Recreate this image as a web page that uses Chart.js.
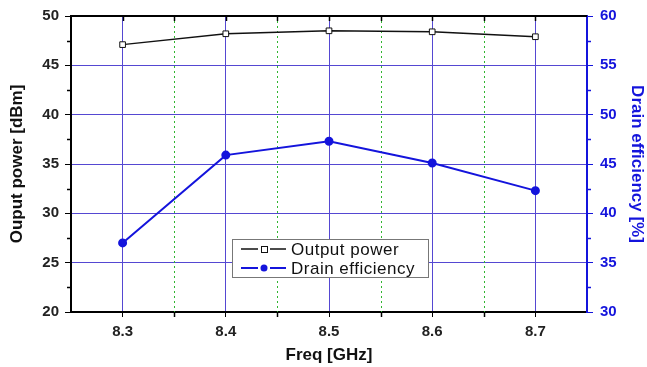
<!DOCTYPE html>
<html>
<head>
<meta charset="utf-8">
<script src="https://cdn.jsdelivr.net/npm/chart.js@4.4.1/dist/chart.umd.min.js"></script>
<style>
  html, body { margin: 0; padding: 0; background: #fff; }
  #wrap { width: 647px; height: 367px; }
</style>
</head>
<body>
<div id="wrap"><canvas id="c" width="647" height="367"></canvas></div>
<script>
// data
const freqs = [8.3, 8.4, 8.5, 8.6, 8.7]
const outputPower = [47.1, 48.2, 48.5, 48.4, 47.9]
const drainEff = [37.0, 45.9, 47.3, 45.1, 42.3]

const xTicks = [8.3, 8.4, 8.5, 8.6, 8.7]
const xMinor = [8.35, 8.45, 8.55, 8.65]
const yMinor = [22.5, 27.5, 32.5, 37.5, 42.5, 47.5]
const y2Minor = [32.5, 37.5, 42.5, 47.5, 52.5, 57.5]

const gridPurple = '#5548d2'
const blue = '#1414dc'
const fontFam = 'Arial, "Liberation Sans", sans-serif'

// extra axis bits: green dotted minor grid, top frame, minor ticks
const frame = {
	id: 'frame',
	beforeDatasetsDraw(chart) {
		const { ctx, chartArea: a, scales } = chart
		ctx.save()
		ctx.strokeStyle = '#2fb52f'
		ctx.lineWidth = 1
		ctx.setLineDash([2, 3])
		for (const v of xMinor) {
			const px = Math.round(scales.x.getPixelForValue(v)) + 0.5
			ctx.beginPath()
			ctx.moveTo(px, a.top)
			ctx.lineTo(px, a.bottom)
			ctx.stroke()
		}
		ctx.restore()
	},
	afterDraw(chart) {
		const { ctx, chartArea: a, scales } = chart
		ctx.save()
		// top frame
		ctx.strokeStyle = '#000'
		ctx.lineWidth = 2
		ctx.beginPath()
		ctx.moveTo(a.left, a.top)
		ctx.lineTo(a.right, a.top)
		ctx.stroke()
		// top inward ticks + bottom minor ticks
		ctx.lineWidth = 1.5
		for (const v of xTicks.concat(xMinor)) {
			const px = Math.round(scales.x.getPixelForValue(v)) + 0.5
			ctx.beginPath()
			ctx.moveTo(px, a.top)
			ctx.lineTo(px, a.top + 5)
			ctx.stroke()
		}
		for (const v of xMinor) {
			const px = Math.round(scales.x.getPixelForValue(v)) + 0.5
			ctx.beginPath()
			ctx.moveTo(px, a.bottom)
			ctx.lineTo(px, a.bottom + 5)
			ctx.stroke()
		}
		for (const v of yMinor) {
			const py = Math.round(scales.y.getPixelForValue(v)) + 0.5
			ctx.beginPath()
			ctx.moveTo(a.left, py)
			ctx.lineTo(a.left - 4, py)
			ctx.stroke()
		}
		ctx.strokeStyle = blue
		for (const v of y2Minor) {
			const py = Math.round(scales.y2.getPixelForValue(v)) + 0.5
			ctx.beginPath()
			ctx.moveTo(a.right, py)
			ctx.lineTo(a.right + 4, py)
			ctx.stroke()
		}

		// legend box
		const ds = chart.data.datasets
		const bx = 232, by = 239, bw = 196, bh = 38
		ctx.fillStyle = '#fff'
		ctx.fillRect(bx, by, bw, bh)
		ctx.strokeStyle = '#777'
		ctx.lineWidth = 1
		ctx.strokeRect(bx + 0.5, by + 0.5, bw, bh)
		ds.forEach((d, i) => {
			const cy = by + 10 + i * 19
			const cx = bx + 32
			ctx.strokeStyle = d.borderColor
			ctx.lineWidth = d.borderWidth
			ctx.beginPath()
			ctx.moveTo(bx + 9, cy)
			ctx.lineTo(cx - 6, cy)
			ctx.moveTo(cx + 6, cy)
			ctx.lineTo(bx + 54, cy)
			ctx.stroke()
			ctx.lineWidth = 1
			if (d.pointStyle === 'rect') {
				ctx.fillStyle = d.pointBackgroundColor
				ctx.fillRect(cx - 3, cy - 3, 6, 6)
				ctx.strokeRect(cx - 3 + 0.5, cy - 3 + 0.5, 6, 6)
			} else {
				ctx.fillStyle = d.pointBackgroundColor
				ctx.beginPath()
				ctx.arc(cx, cy, 3.5, 0, Math.PI * 2)
				ctx.fill()
			}
			ctx.fillStyle = '#111'
			ctx.font = '17px ' + fontFam
			ctx.letterSpacing = '0.5px'
			ctx.textBaseline = 'middle'
			ctx.fillText(d.label, bx + 59, cy + 1)
		})
		ctx.restore()
	}
}

new Chart(document.getElementById('c'), {
	type: 'line',
	data: {
		datasets: [
			{
				label: 'Output power',
				data: freqs.map((f, i) => ({ x: f, y: outputPower[i] })),
				yAxisID: 'y',
				borderColor: '#111',
				borderWidth: 1.4,
				pointStyle: 'rect',
				pointRadius: 4,
				pointBackgroundColor: '#fff',
				pointBorderColor: '#111',
				pointBorderWidth: 1,
				tension: 0
			},
			{
				label: 'Drain efficiency',
				data: freqs.map((f, i) => ({ x: f, y: drainEff[i] })),
				yAxisID: 'y2',
				borderColor: blue,
				borderWidth: 2,
				pointStyle: 'circle',
				pointRadius: 3.5,
				pointBackgroundColor: blue,
				pointBorderColor: blue,
				tension: 0
			}
		]
	},
	options: {
		responsive: false,
		animation: false,
		layout: { padding: { top: 14, left: 0, right: 0, bottom: 0 } },
		plugins: {
			legend: { display: false },
			tooltip: { enabled: false }
		},
		scales: {
			x: {
				type: 'linear',
				min: 8.25,
				max: 8.75,
				afterBuildTicks: (scale) => {
					scale.ticks = xTicks.map((v) => ({ value: v }))
				},
				afterFit: (scale) => { scale.height = 55 },
				ticks: {
					color: '#222',
					font: { family: fontFam, size: 15, weight: 'bold' },
					padding: 6,
					maxRotation: 0,
					callback: (v) => v.toFixed(1)
				},
				grid: { color: gridPurple, lineWidth: 1, tickColor: '#000', tickLength: 5 },
				border: { color: '#000', width: 2 },
				title: {
					display: true,
					text: 'Freq [GHz]',
					color: '#111',
					font: { family: fontFam, size: 17, weight: 'bold' },
					padding: { top: 0, bottom: 1 }
				}
			},
			y: {
				position: 'left',
				min: 20,
				max: 50,
				afterFit: (scale) => { scale.width = 71 },
				ticks: {
					stepSize: 5,
					color: '#222',
					font: { family: fontFam, size: 15, weight: 'bold' },
					padding: 6
				},
				grid: { color: gridPurple, lineWidth: 1, tickColor: '#000', tickLength: 6 },
				border: { color: '#000', width: 2 },
				title: {
					display: true,
					text: 'Ouput power [dBm]',
					color: '#111',
					font: { family: fontFam, size: 17, weight: 'bold' },
					padding: { top: 7, bottom: 0 }
				}
			},
			y2: {
				position: 'right',
				min: 30,
				max: 60,
				afterFit: (scale) => { scale.width = 60 },
				ticks: {
					stepSize: 5,
					color: blue,
					font: { family: fontFam, size: 15, weight: 'bold' },
					padding: 7
				},
				grid: { drawOnChartArea: false, tickColor: blue, tickLength: 6 },
				border: { color: blue, width: 2 },
				title: {
					display: true,
					text: 'Drain efficiency [%]',
					color: blue,
					font: { family: fontFam, size: 17, weight: 'bold' },
					padding: 0
				}
			}
		}
	},
	plugins: [frame]
})
</script>
</body>
</html>
